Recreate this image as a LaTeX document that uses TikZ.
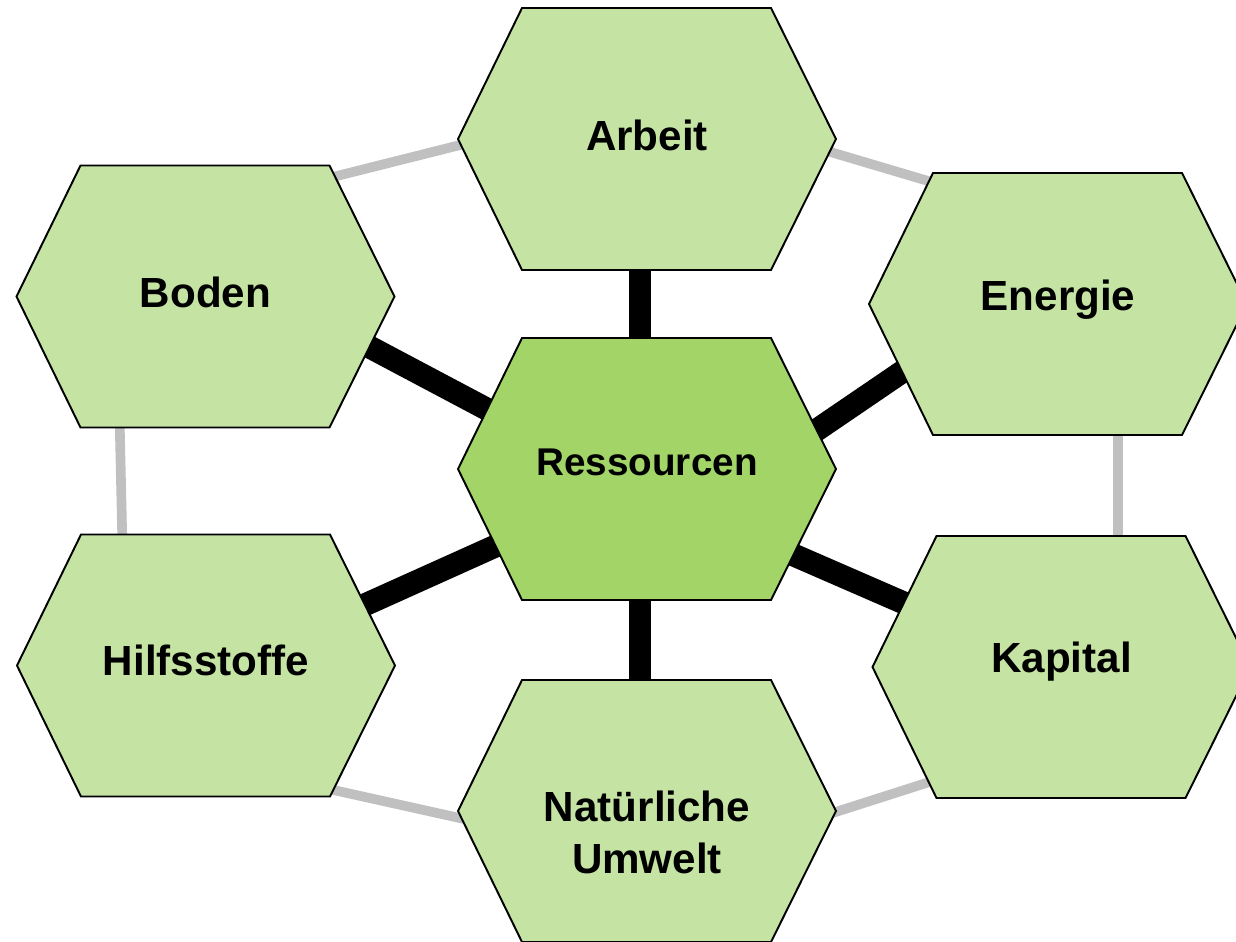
\documentclass[tikz,border=0pt]{standalone}
\usepackage{fontspec}
\setmainfont{Liberation Sans}
\usetikzlibrary{calc}
\pgfdeclarelayer{background}
\pgfdeclarelayer{paper}
\pgfsetlayers{paper,background,main}
\definecolor{hexlight}{RGB}{197,228,164}
\definecolor{hexdark}{RGB}{162,212,104}
\definecolor{linkgray}{RGB}{192,192,192}
\tikzset{
  hexline/.style={draw=black, line width=1.1pt, line join=miter},
  lbl/.style={font=\fontsize{24}{29.5}\selectfont\bfseries, align=center, text=black},
  strong/.style={draw=black, line width=13pt},
  weak/.style={draw=linkgray, line width=5.5pt},
}
% name, cx, cy, fill, text, text-y
\newcommand{\hexa}[6]{%
  \coordinate (#1-l) at ({#2-189},{#3});
  \coordinate (#1-tl) at ({#2-125},{#3-131});
  \coordinate (#1-tr) at ({#2+124},{#3-131});
  \coordinate (#1-r) at ({#2+189},{#3});
  \coordinate (#1-br) at ({#2+124},{#3+131});
  \coordinate (#1-bl) at ({#2-125},{#3+131});
  \draw[hexline, fill=#4] (#1-l) -- (#1-tl) -- (#1-tr) -- (#1-r) -- (#1-br) -- (#1-bl) -- cycle;
  \node[lbl] (#1) at (#2,#6) {#5};
}
\begin{document}
\begin{tikzpicture}[x=0.02cm, y=-0.02cm]
\useasboundingbox (0,0) rectangle (1236,941);
\begin{pgfonlayer}{paper}
  \fill[white] (0,0) rectangle (1236,941);
\end{pgfonlayer}
\clip (0,0) rectangle (1236,941);

% hexagons
\hexa{arbeit}{647}{139}{hexlight}{Arbeit}{135}
\hexa{boden}{205.5}{296.5}{hexlight}{Boden}{292}
\hexa{energie}{1058}{304}{hexlight}{Energie}{300}
\hexa{hilfs}{206}{665.5}{hexlight}{Hilfsstoffe}{660}
\hexa{kapital}{1061.5}{667}{hexlight}{Kapital}{662}
\hexa{umwelt}{647}{811}{hexlight}{Natürliche\\Umwelt}{832}
\hexa{res}{647}{469}{hexdark}{}{469}
\node[lbl, font=\fontsize{22}{27}\selectfont\bfseries] (ressourcen) at (647,462) {Ressourcen};

% connector end points
\coordinate (s1a) at (640,250);  \coordinate (s1b) at (640,360);
\coordinate (s2a) at (640,580);  \coordinate (s2b) at (640,700);
\coordinate (s3a) at (330,326);  \coordinate (s3b) at (530,432);
\coordinate (s4a) at (780,455);  \coordinate (s4b) at (940,346);
\coordinate (s5a) at (320,625);  \coordinate (s5b) at (540,526);
\coordinate (s6a) at (750,536);  \coordinate (s6b) at (950,623);

\coordinate (w1a) at (293,187);  \coordinate (w1b) at (500,135);
\coordinate (w2a) at (790,140);  \coordinate (w2b) at (972,194);
\coordinate (w3a) at (1118,420); \coordinate (w3b) at (1118,550);
\coordinate (w4a) at (119.5,415); \coordinate (w4b) at (122.5,548);
\coordinate (w5a) at (293,781);  \coordinate (w5b) at (500,827);
\coordinate (w6a) at (795,825);  \coordinate (w6b) at (970,769);

\begin{pgfonlayer}{background}
  \draw[strong] (s1a) -- (s1b);
  \draw[strong] (s2a) -- (s2b);
  \draw[strong] (s3a) -- (s3b);
  \draw[strong] (s4a) -- (s4b);
  \draw[strong] (s5a) -- (s5b);
  \draw[strong] (s6a) -- (s6b);
  \draw[weak] (w1a) -- (w1b);
  \draw[weak] (w2a) -- (w2b);
  \draw[weak] (w3a) -- (w3b);
  \draw[weak] (w4a) -- (w4b);
  \draw[weak] (w5a) -- (w5b);
  \draw[weak] (w6a) -- (w6b);
\end{pgfonlayer}
\end{tikzpicture}
\end{document}
